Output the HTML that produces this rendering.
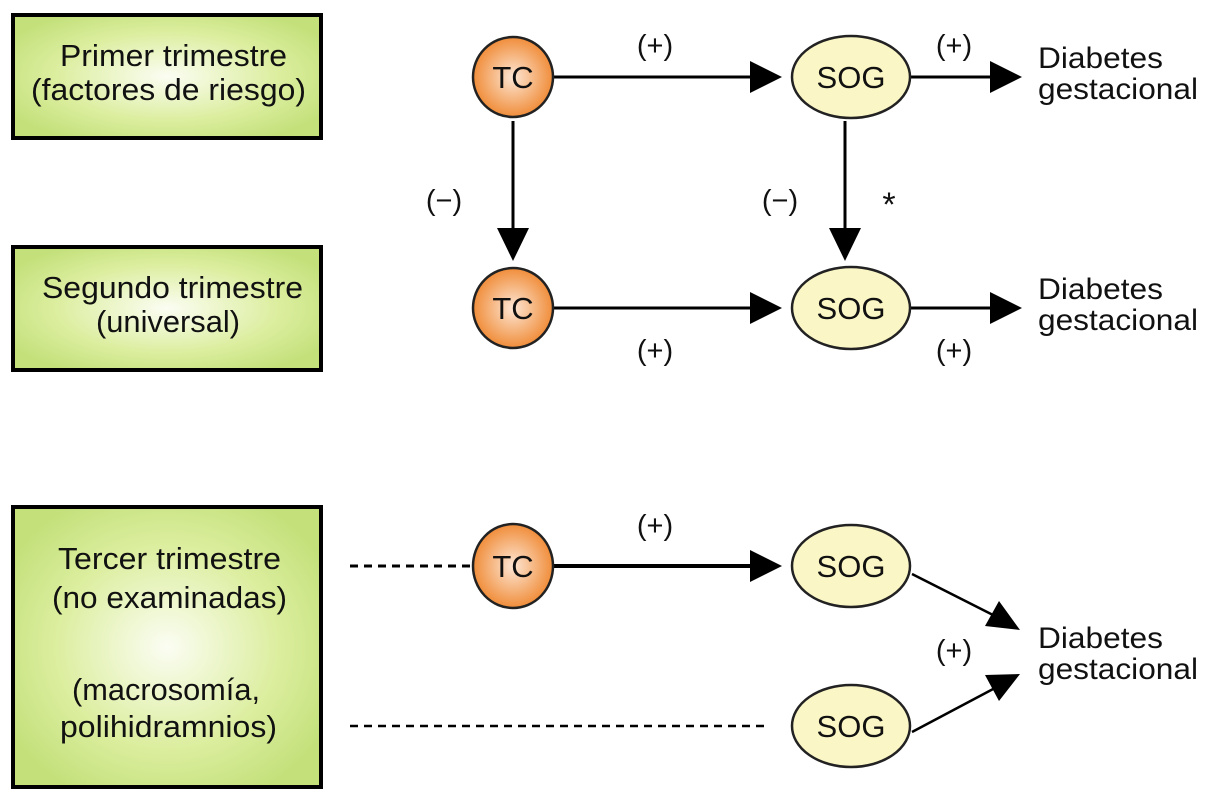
<!DOCTYPE html>
<html><head><style>
html,body{margin:0;padding:0;background:#fff;}
svg{display:block;}
text{font-family:"Liberation Sans",Arial,sans-serif;fill:#111;}
</style></head><body>
<svg width="1212" height="804" viewBox="0 0 1212 804" xmlns="http://www.w3.org/2000/svg">
<defs>
<radialGradient id="g" cx="50%" cy="50%" r="60%">
<stop offset="0" stop-color="#fbfdf3"/><stop offset="0.6" stop-color="#dcee9f"/><stop offset="1" stop-color="#c3e07a"/>
</radialGradient>
<radialGradient id="o" cx="50%" cy="50%" r="50%">
<stop offset="0" stop-color="#fde6d4"/><stop offset="1" stop-color="#f08d3a"/>
</radialGradient>
</defs>
<g stroke="#000" stroke-width="4">
<rect x="13" y="15" width="308" height="123" fill="url(#g)"/>
<rect x="13" y="247" width="308" height="123" fill="url(#g)"/>
<rect x="13" y="507" width="308" height="280" fill="url(#g)"/>
</g>
<g font-size="31" lengthAdjust="spacingAndGlyphs">
<text x="60" y="66" textLength="227" lengthAdjust="spacingAndGlyphs">Primer trimestre</text>
<text x="31" y="100" textLength="275" lengthAdjust="spacingAndGlyphs">(factores de riesgo)</text>
<text x="42" y="298" textLength="261" lengthAdjust="spacingAndGlyphs">Segundo trimestre</text>
<text x="96" y="332" textLength="144" lengthAdjust="spacingAndGlyphs">(universal)</text>
<text x="58" y="569" textLength="223" lengthAdjust="spacingAndGlyphs">Tercer trimestre</text>
<text x="52" y="608" textLength="235" lengthAdjust="spacingAndGlyphs">(no examinadas)</text>
<text x="72" y="700" textLength="188" lengthAdjust="spacingAndGlyphs">(macrosomía,</text>
<text x="60" y="737" textLength="217" lengthAdjust="spacingAndGlyphs">polihidramnios)</text>
</g>
<g stroke="#000" stroke-width="3" fill="none">
<line x1="553" y1="77" x2="752" y2="77"/>
<line x1="910" y1="77" x2="992" y2="77"/>
<line x1="513" y1="121" x2="513" y2="230"/>
<line x1="845" y1="121" x2="845" y2="230"/>
<line x1="553" y1="308" x2="752" y2="308"/>
<line x1="910" y1="308" x2="992" y2="308"/>
<line x1="553" y1="566" x2="752" y2="566" stroke-width="4"/>
<line x1="912" y1="574" x2="995" y2="616" stroke-width="2.5"/>
<line x1="912" y1="732" x2="995" y2="688" stroke-width="2.5"/>
<line x1="350" y1="566" x2="472" y2="566" stroke-dasharray="8,6"/>
<line x1="350" y1="726" x2="770" y2="726" stroke-dasharray="8,6" stroke-width="2.5"/>
</g>
<g fill="#000">
<polygon points="750,61 782,77 750,93"/>
<polygon points="990,61 1022,77 990,93"/>
<polygon points="497,228 513,261 529,228"/>
<polygon points="829,228 845,261 861,228"/>
<polygon points="750,292 782,308 750,324"/>
<polygon points="990,292 1022,308 990,324"/>
<polygon points="750,550 782,566 750,582"/>
<polygon points="1020,630 985,626 999,601"/>
<polygon points="1020,674 985,675 999,701"/>
</g>
<g stroke="#222" stroke-width="2.5">
<circle cx="513" cy="77" r="40" fill="url(#o)"/>
<circle cx="513" cy="308" r="40" fill="url(#o)"/>
<ellipse cx="513" cy="566" rx="40" ry="42" fill="url(#o)"/>
<ellipse cx="851" cy="77" rx="59" ry="41" fill="#fbf6c6"/>
<ellipse cx="851" cy="308" rx="59" ry="41" fill="#fbf6c6"/>
<ellipse cx="851" cy="566" rx="59" ry="41" fill="#fbf6c6"/>
<ellipse cx="851" cy="726" rx="59" ry="41" fill="#fbf6c6"/>
</g>
<g font-size="31" text-anchor="middle">
<text x="513" y="88">TC</text>
<text x="513" y="319">TC</text>
<text x="513" y="577">TC</text>
<text x="851" y="88">SOG</text>
<text x="851" y="319">SOG</text>
<text x="851" y="577">SOG</text>
<text x="851" y="737">SOG</text>
</g>
<g font-size="29" text-anchor="middle">
<text x="655" y="55">(+)</text>
<text x="954" y="55">(+)</text>
<text x="444" y="210">(−)</text>
<text x="780" y="210">(−)</text>
<text x="889" y="216" font-size="34">*</text>
<text x="655" y="360">(+)</text>
<text x="954" y="360">(+)</text>
<text x="655" y="535">(+)</text>
<text x="954" y="660">(+)</text>
</g>
<g font-size="30">
<text x="1038" y="68" textLength="125" lengthAdjust="spacingAndGlyphs">Diabetes</text>
<text x="1038" y="99" textLength="160" lengthAdjust="spacingAndGlyphs">gestacional</text>
<text x="1038" y="299" textLength="125" lengthAdjust="spacingAndGlyphs">Diabetes</text>
<text x="1038" y="330" textLength="160" lengthAdjust="spacingAndGlyphs">gestacional</text>
<text x="1038" y="648" textLength="125" lengthAdjust="spacingAndGlyphs">Diabetes</text>
<text x="1038" y="679" textLength="160" lengthAdjust="spacingAndGlyphs">gestacional</text>
</g>
</svg>
</body></html>
